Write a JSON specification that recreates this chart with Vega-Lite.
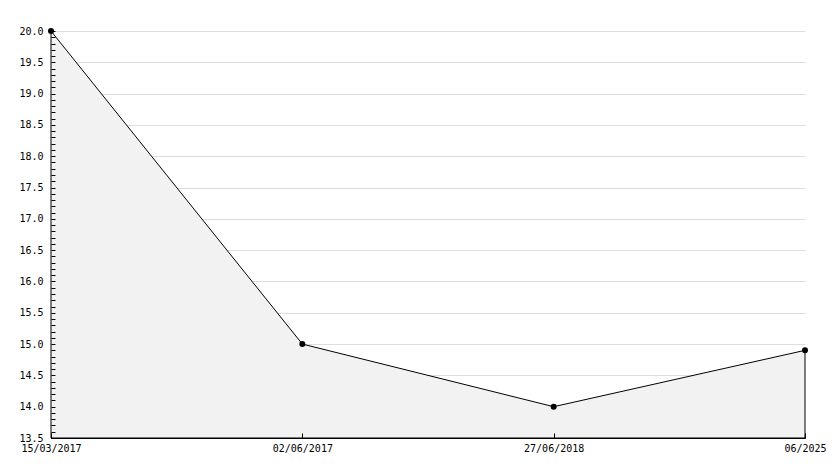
{
  "$schema": "https://vega.github.io/schema/vega-lite/v6.json",
  "width": 754,
  "height": 407,
  "autosize": {"type": "none"},
  "padding": {"left": 51, "top": 31, "right": 29, "bottom": 30},
  "background": "white",
  "config": {
    "view": {"stroke": null},
    "font": "DejaVu Sans Mono",
    "axis": {"labelFont": "DejaVu Sans Mono", "labelFontSize": 10, "labelColor": "#000000"}
  },
  "data": {
    "values": [
      {"date": "15/03/2017", "order": 1, "value": 20.0},
      {"date": "02/06/2017", "order": 2, "value": 15.0},
      {"date": "27/06/2018", "order": 3, "value": 14.0},
      {"date": "06/2025", "order": 4, "value": 14.9}
    ]
  },
  "layer": [
    {
      "mark": {"type": "area", "fill": "#f2f2f2", "stroke": "#000000", "strokeWidth": 1},
      "encoding": {
        "x": {
          "field": "date",
          "type": "ordinal",
          "sort": {"field": "order"},
          "scale": {"type": "point", "padding": 0},
          "axis": {
            "title": null,
            "labelAngle": 0,
            "domainColor": "#000000",
            "ticks": false,
            "labelPadding": 5,
            "grid": false,
            "zindex": 0
          }
        },
        "y": {
          "field": "value",
          "type": "quantitative",
          "scale": {"domain": [13.5, 20.0], "nice": false, "zero": false},
          "axis": {
            "title": null,
            "values": [13.5,14.0,14.5,15.0,15.5,16.0,16.5,17.0,17.5,18.0,18.5,19.0,19.5,20.0],
            "format": ".1f",
            "grid": true,
            "gridColor": "#dddddd",
            "domainColor": "#000000",
            "ticks": false,
            "labelPadding": 8,
            "zindex": 0
          }
        },
        "y2": {"datum": 13.5}
      }
    },
    {
      "mark": {"type": "point", "filled": true, "color": "#000000", "size": 36, "opacity": 1},
      "encoding": {
        "x": {
          "field": "date",
          "type": "ordinal",
          "sort": {"field": "order"},
          "axis": {
            "orient": "top",
            "offset": -407,
            "title": null,
            "labels": false,
            "domain": false,
            "grid": false,
            "tickColor": "#000000",
            "tickSize": 5,
            "zindex": 1
          }
        },
        "y": {
          "field": "value",
          "type": "quantitative",
          "axis": {
            "orient": "right",
            "offset": -754,
            "title": null,
            "labels": false,
            "domain": false,
            "grid": false,
            "values": [13.5,13.6,13.7,13.8,13.9,14.0,14.1,14.2,14.3,14.4,14.5,14.6,14.7,14.8,14.9,15.0,15.1,15.2,15.3,15.4,15.5,15.6,15.7,15.8,15.9,16.0,16.1,16.2,16.3,16.4,16.5,16.6,16.7,16.8,16.9,17.0,17.1,17.2,17.3,17.4,17.5,17.6,17.7,17.8,17.9,18.0,18.1,18.2,18.3,18.4,18.5,18.6,18.7,18.8,18.9,19.0,19.1,19.2,19.3,19.4,19.5,19.6,19.7,19.8,19.9,20.0],
            "tickColor": "#000000",
            "tickSize": 4,
            "zindex": 1
          }
        }
      }
    }
  ],
  "resolve": {"scale": {"x": "shared", "y": "shared"}, "axis": {"x": "independent", "y": "independent"}}
}
